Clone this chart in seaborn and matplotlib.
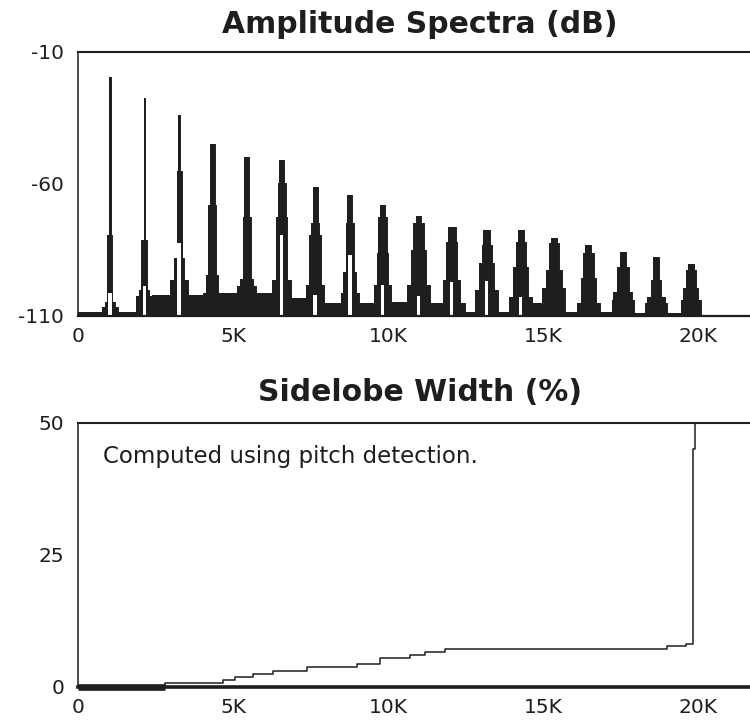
import numpy as np
import pandas as pd
import matplotlib
matplotlib.use("Agg")
import matplotlib.pyplot as plt
import seaborn as sns

# ---------------- data ----------------
# harmonic peaks of the amplitude spectrum
peak_hz = [1030, 2140, 3260, 4330, 5440, 6570, 7650, 8770, 9820,
           10980, 12050, 13180, 14280, 15350, 16460, 17570, 18650, 19770]
peak_db = [-19.6, -27.5, -33.9, -44.9, -49.8, -50.9, -61.0, -64.2, -68.0,
           -72.1, -76.2, -77.4, -77.4, -80.5, -83.1, -85.6, -87.5, -90.3]
upper_db = [-79.3, -81.2, -55.0, -68.0, -72.4, -59.7, -74.9, -74.9, -72.4,
            -74.9, -81.8, -83.1, -82.0, -82.4, -86.3, -91.3, -96.4, -92.6]
mid_db = [-104.6, -100.2, -88.2, -94.5, -96.0, -72.4, -79.3, -93.2, -86.3,
          -85.0, -96.4, -90.0, -91.3, -92.6, -95.7, -100.8, -102.7, -99.5]
low_db = [-106.5, -102.4, -96.4, -101.3, -98.5, -96.4, -98.3, -101.4, -98.3,
          -98.3, -105.0, -100.2, -102.7, -99.5, -105.2, -104.0, -105.0, -104.0]
# half-widths (Hz) of each level of a peak
hw_top_hz = [25, 25, 40, 80, 80, 80, 80, 80, 80,
             80, 130, 100, 100, 100, 100, 100, 100, 100]
hw_upper_hz = [80, 100, 80, 130, 130, 130, 140, 140, 140,
               170, 190, 160, 160, 160, 170, 190, 170, 150]
hw_mid_hz = [160, 160, 160, 200, 200, 180, 190, 210, 190,
             250, 280, 250, 250, 250, 250, 300, 300, 240]
hw_low_hz = [260, 260, 280, 300, 300, 300, 300, 300, 280,
             380, 420, 370, 370, 370, 370, 360, 350, 320]
# noise floor before, between and after the peaks
floor_db = [-108.4, -108.4, -102.0, -102.0, -101.3, -101.4, -103.0, -105.0,
            -105.0, -104.8, -105.2, -108.4, -108.4, -105.0, -108.4, -108.4,
            -109.0, -109.0, -109.6]
# lower envelope at the peak centre (white slits), nan = none
notch_db = [-101.4, -98.6, -82.2, np.nan, np.nan, -79.3, -102.0, -86.9, -98.3,
            -102.4, -97.3, -96.8, -102.7, np.nan, np.nan, np.nan, np.nan, np.nan]
notch_hw_hz = 55
nyquist_hz = 22050

# sidelobe width (step curve)
sidelobe_hz = [0, 2800, 4690, 5060, 5660, 6300, 7380, 8990, 9740, 10700,
               11200, 11840, 18990, 19600, 19830, 19900, 22050]
sidelobe_pct = [0, 0.75, 1.26, 1.9, 2.4, 3.0, 3.8, 4.4, 5.5, 6.0,
                6.6, 7.2, 7.7, 8.2, 45.0, 50.0, 50.0]

xtick_vals = [0, 5000, 10000, 15000, 20000]
xtick_labels = ["0", "5K", "10K", "15K", "20K"]
amp_ticks = [-110, -60, -10]
amp_labels = ["-110", "-60", "-10"]
side_ticks = [0, 25, 50]
side_labels = ["0", "25", "50"]

title_top = "Amplitude Spectra (dB)"
title_bottom = "Sidelobe Width (%)"
note = "Computed using pitch detection."

# ---------------- build spectrum envelope table ----------------
xs = [0.0]
ys = [floor_db[0]]
for i, c in enumerate(peak_hz):
    offs = [-hw_low_hz[i], -hw_mid_hz[i], -hw_upper_hz[i], -hw_top_hz[i],
            hw_top_hz[i], hw_upper_hz[i], hw_mid_hz[i], hw_low_hz[i]]
    lv = [low_db[i], mid_db[i], upper_db[i], peak_db[i],
          upper_db[i], mid_db[i], low_db[i], floor_db[i + 1]]
    for o, l in zip(offs, lv):
        xs.append(c + o)
        ys.append(l)
xs.append(nyquist_hz)
ys.append(floor_db[-1])
spec = pd.DataFrame({"hz": xs, "db": ys})
side = pd.DataFrame({"hz": sidelobe_hz, "pct": sidelobe_pct})

# ---------------- figure ----------------
sns.set_theme(style="white")
plt.rcParams["font.family"] = ["DejaVu Sans"]

W, H = 750, 726
fig = plt.figure(figsize=(W / 100, H / 100), dpi=100)

left_px = 78
px_per_hz = 31.0 / 1000.0
ax_w_px = nyquist_hz * px_per_hz


def add_axes(top_px, bottom_px):
    return fig.add_axes([left_px / W, 1 - bottom_px / H,
                         ax_w_px / W, (bottom_px - top_px) / H])


ax1 = add_axes(52, 316)
ax2 = add_axes(423, 687)
ink = "#1e1e1e"

# top: amplitude spectrum
ax1.fill_between(spec["hz"], -110, spec["db"], step="post", color=ink, lw=0, zorder=1)
sns.lineplot(data=spec, x="hz", y="db", drawstyle="steps-post", estimator=None,
             sort=False, color=ink, lw=0.7, ax=ax1, zorder=2)
for c, nd in zip(peak_hz, notch_db):
    if not np.isnan(nd):
        ax1.fill_between([c - notch_hw_hz, c + notch_hw_hz], -110, nd,
                         color="white", lw=0, zorder=3)
ax1.set_xlim(0, nyquist_hz)
ax1.set_ylim(-110, -10)
ax1.set_yticks(amp_ticks)
ax1.set_yticklabels(amp_labels)

# bottom: sidelobe width
sns.lineplot(data=side, x="hz", y="pct", drawstyle="steps-post", estimator=None,
             sort=False, color=ink, lw=1.1, ax=ax2, zorder=2)
zero_part = side[side["pct"] == 0]
zero_seg = pd.DataFrame({"hz": [zero_part["hz"].min(), sidelobe_hz[1]],
                         "pct": [0, 0]})
sns.lineplot(data=zero_seg, x="hz", y="pct", estimator=None, sort=False,
             color=ink, lw=4.8, ax=ax2, zorder=2, clip_on=False,
             solid_capstyle="butt")
ax2.set_xlim(0, nyquist_hz)
ax2.set_ylim(0, 50)
ax2.set_yticks(side_ticks)
ax2.set_yticklabels(side_labels)

for ax in (ax1, ax2):
    ax.set_xticks(xtick_vals)
    ax.set_xticklabels(xtick_labels)
    ax.set_xlabel("")
    ax.set_ylabel("")
    ax.tick_params(axis="both", length=0, labelsize=14.5, colors=ink)
    ax.tick_params(axis="x", pad=8)
    ax.tick_params(axis="y", pad=10)
    ax.grid(False)
    for s in ax.spines.values():
        s.set_color(ink)
        s.set_zorder(4)
    ax.spines["left"].set_linewidth(1.1)
    ax.spines["top"].set_linewidth(1.5)
    ax.spines["right"].set_visible(False)

ax1.spines["bottom"].set_linewidth(1.6)
ax2.spines["bottom"].set_linewidth(2.6)

cx = (left_px + ax_w_px / 2) / W
fig.text(cx, 1 - 33.3 / H, title_top, ha="center", va="baseline",
         fontsize=21.5, fontweight="bold", color=ink)
fig.text(cx, 1 - 401.3 / H, title_bottom, ha="center", va="baseline",
         fontsize=21.5, fontweight="bold", color=ink)
fig.text(103 / W, 1 - 463.3 / H, note, ha="left", va="baseline",
         fontsize=16.5, color=ink)

fig.savefig("out.png", dpi=100, facecolor="white")
